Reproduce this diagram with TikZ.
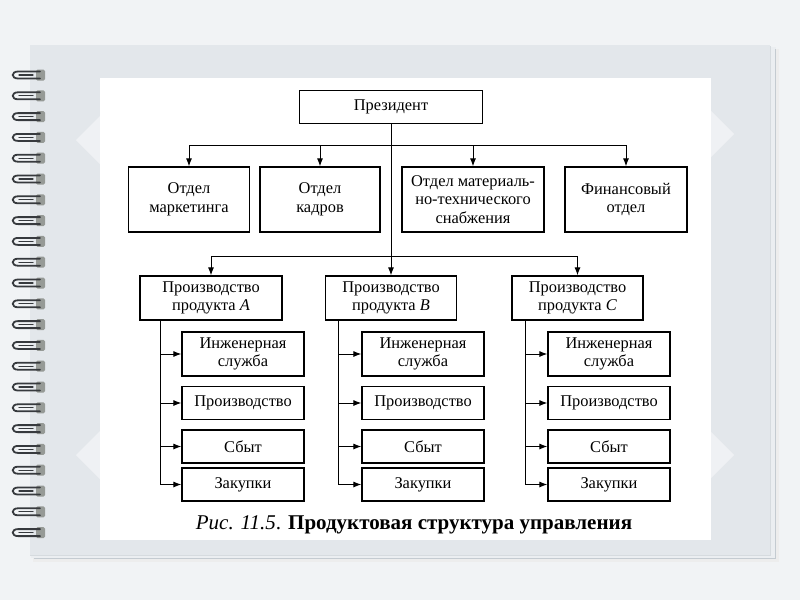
\documentclass[tikz,border=0pt]{standalone}
\usepackage{fontspec}
\setmainfont{Liberation Serif}
\usetikzlibrary{arrows.meta, calc}

\definecolor{bgout}{RGB}{241,243,245}
\definecolor{pagefill}{RGB}{227,231,235}
\definecolor{pageedge}{RGB}{196,203,209}
\definecolor{coil}{RGB}{55,58,62}
\definecolor{coilend}{RGB}{150,154,150}

\begin{document}
\begin{tikzpicture}[x=1pt, y=-1pt,
	box/.style={draw, line width=1.2pt, fill=white, align=center, inner sep=1pt,
		font=\fontsize{16.4}{18.6}\selectfont},
	arr/.style={line width=1pt, -{Latex[length=8pt,width=6pt]}},
	wire/.style={coil, line width=1.8pt, line cap=round}]

	% notebook page
	\fill[bgout] (0,0) rectangle (800,600);
	\fill[black!7] (33,49) rectangle (779,562);
	\fill[pagefill!70!white] (31,47) rectangle (776,558);
	\draw[pageedge] (775,49) -- (775,558) -- (34,558);
	\fill[pagefill] (30,45) rectangle (770,555);
	\draw[pageedge!70!white] (770,46) -- (770,555) -- (30,555);
	\foreach \dx/\dy in {108/140, 702/134, 108/455, 702/455}
		\fill[white, opacity=0.45] (\dx,\dy) ++(-32,0) -- ++(32,-32) -- ++(32,32) -- ++(-32,32) -- cycle;
	\fill[white] (100,78) rectangle (711,540);

	\foreach \i in {0,...,22}{
		\pgfmathsetmacro{\cy}{75+20.8*\i}
		\fill[coilend, rounded corners=1.5pt] (36,\cy-5.5) rectangle (45,\cy+5.5);
		\draw[wire] (40,\cy-3.5) -- (18,\cy-3.5) .. controls (11,\cy-3.5) and (11,\cy+3.5) .. (18,\cy+3.5) -- (40,\cy+3.5);
		\draw[wire, line width=1.3pt] (19,\cy) -- (33,\cy);
	}

	% top level
	\node[box, minimum width=183pt, minimum height=33pt] (pres) at (391,107) {Президент};

	\node[box, minimum width=121pt, minimum height=65pt] (mkt) at (189,199.5) {Отдел\\маркетинга};
	\node[box, minimum width=120pt, minimum height=65pt] (kadr) at (320,199.5) {Отдел\\кадров};
	\node[box, minimum width=142pt, minimum height=65pt] (mts) at (473,199.5) {Отдел материаль-\\но-технического\\снабжения};
	\node[box, minimum width=122pt, minimum height=65pt] (fin) at (626,199.5) {Финансовый\\отдел};

	\node[box, minimum width=142pt, minimum height=44pt] (prA) at (211,298) {Производство\\продукта \textit{A}};
	\node[box, minimum width=131pt, minimum height=44pt] (prB) at (391,298) {Производство\\продукта \textit{B}};
	\node[box, minimum width=131pt, minimum height=44pt] (prC) at (577.5,298) {Производство\\продукта \textit{C}};

	% column A
	\node[box, minimum width=122pt, minimum height=44pt] (engA) at (243,354) {Инженерная\\служба};
	\node[box, minimum width=122pt, minimum height=33pt] (proA) at (243,403) {Производство};
	\node[box, minimum width=122pt, minimum height=33pt] (sbtA) at (243,446.5) {Сбыт};
	\node[box, minimum width=122pt, minimum height=33pt] (zakA) at (243,484.5) {Закупки};

	% column B
	\node[box, minimum width=122pt, minimum height=44pt] (engB) at (423,354) {Инженерная\\служба};
	\node[box, minimum width=122pt, minimum height=33pt] (proB) at (423,403) {Производство};
	\node[box, minimum width=122pt, minimum height=33pt] (sbtB) at (423,446.5) {Сбыт};
	\node[box, minimum width=122pt, minimum height=33pt] (zakB) at (423,484.5) {Закупки};

	% column C
	\node[box, minimum width=122pt, minimum height=44pt] (engC) at (609,354) {Инженерная\\служба};
	\node[box, minimum width=122pt, minimum height=33pt] (proC) at (609,403) {Производство};
	\node[box, minimum width=122pt, minimum height=33pt] (sbtC) at (609,446.5) {Сбыт};
	\node[box, minimum width=122pt, minimum height=33pt] (zakC) at (609,484.5) {Закупки};

	\coordinate (dbar) at (391,145);
	\coordinate (pbar) at (391,256);
	\coordinate (spA) at ($ (prA.south west)+(21,0) $);
	\coordinate (spB) at ($ (prB.south west)+(14,0) $);
	\coordinate (spC) at ($ (prC.south west)+(14,0) $);

	\draw[arr] (pres) -- (prB);
	\draw[arr] (dbar) -| (mkt);
	\draw[arr] (dbar) -| (kadr);
	\draw[arr] (dbar) -| (mts);
	\draw[arr] (dbar) -| (fin);
	\draw[arr] (pbar) -| (prA);
	\draw[arr] (pbar) -| (prC);

	\draw[arr] (spA) |- (zakA);
	\draw[arr] (spA |- engA.west) -- (engA);
	\draw[arr] (spA |- proA.west) -- (proA);
	\draw[arr] (spA |- sbtA.west) -- (sbtA);

	\draw[arr] (spB) |- (zakB);
	\draw[arr] (spB |- engB.west) -- (engB);
	\draw[arr] (spB |- proB.west) -- (proB);
	\draw[arr] (spB |- sbtB.west) -- (sbtB);

	\draw[arr] (spC) |- (zakC);
	\draw[arr] (spC |- engC.west) -- (engC);
	\draw[arr] (spC |- proC.west) -- (proC);
	\draw[arr] (spC |- sbtC.west) -- (sbtC);

	\node[font=\fontsize{21}{23}\selectfont] (cap) at (414,525) {\textit{Рис. 11.5}. \textbf{Продуктовая структура управления}};

\end{tikzpicture}
\end{document}
